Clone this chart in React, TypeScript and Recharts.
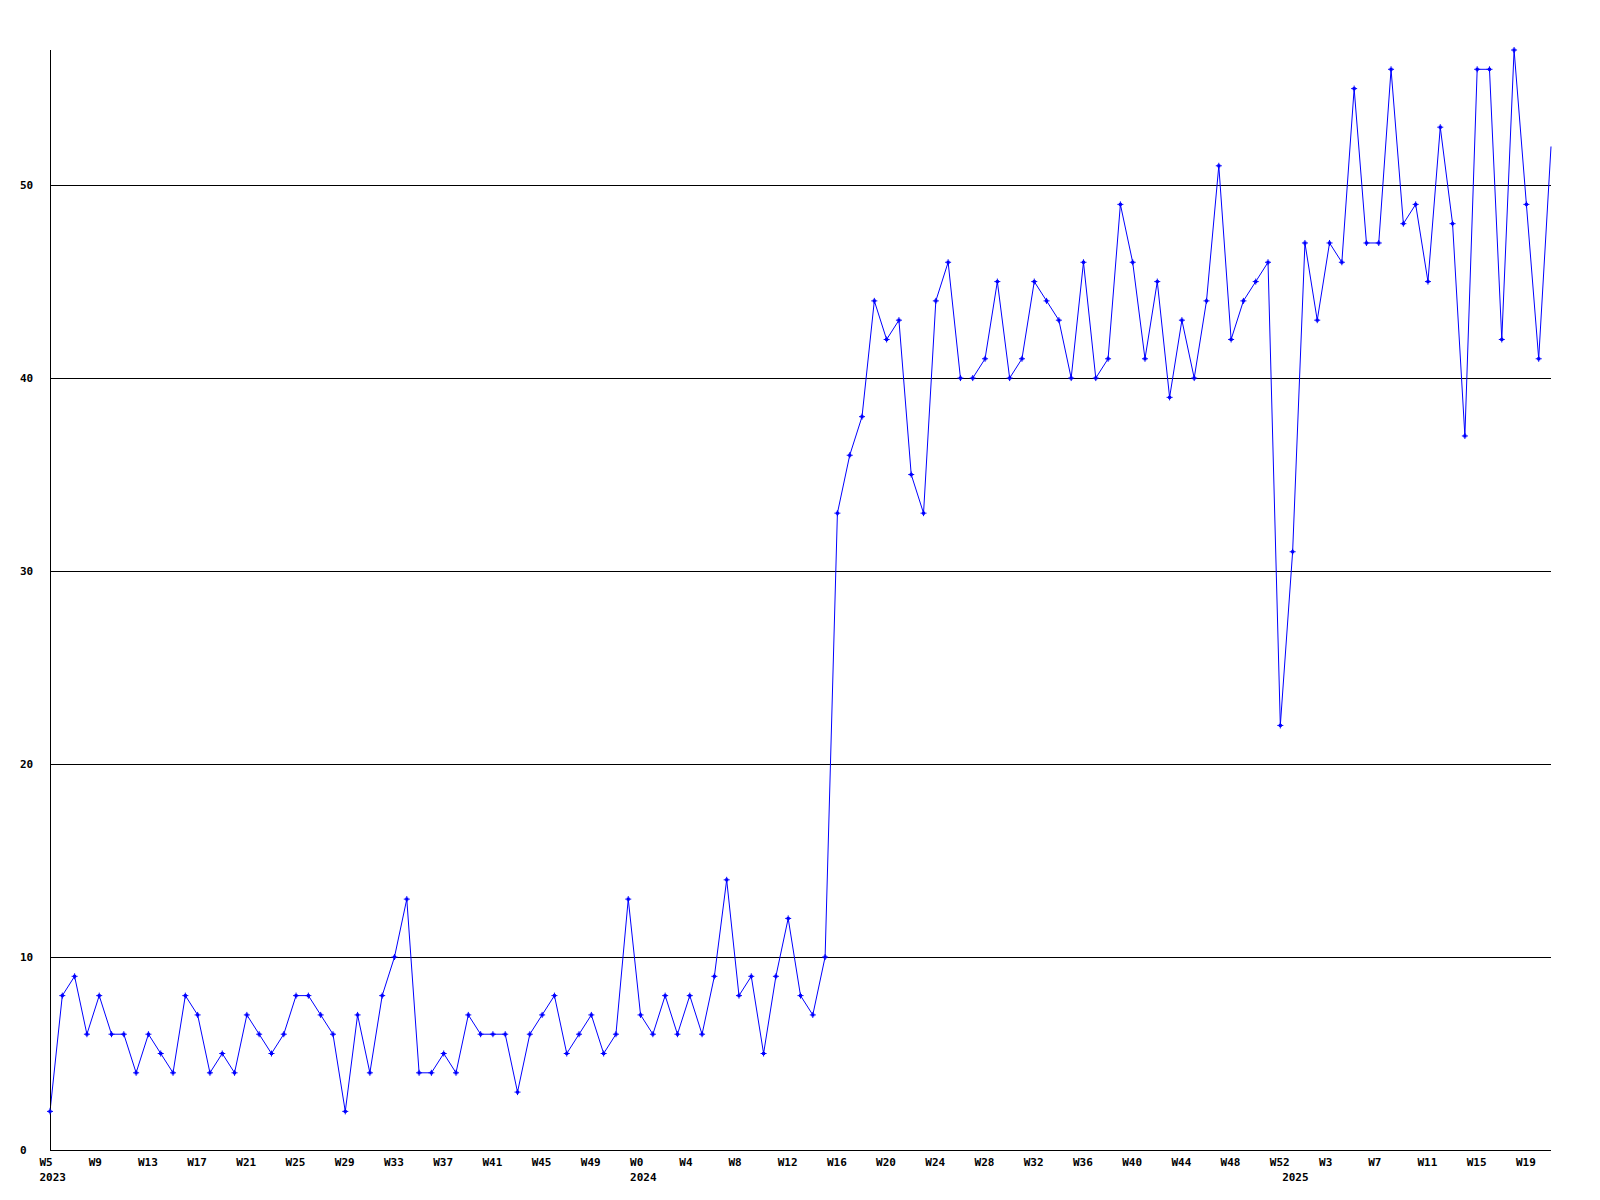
import React from 'react';
import { LineChart, Line, XAxis, YAxis, ReferenceLine } from 'recharts';

// weekly counts, W5 2023 .. W20 2025 (one value per week)
const weeklyCounts = [
  2, 8, 9, 6, 8, 6, 6, 4, 6, 5,
  4, 8, 7, 4, 5, 4, 7, 6, 5, 6,
  8, 8, 7, 6, 2, 7, 4, 8, 10, 13,
  4, 4, 5, 4, 7, 6, 6, 6, 3, 6,
  7, 8, 5, 6, 7, 5, 6, 13, 7, 6,
  8, 6, 8, 6, 9, 14, 8, 9, 5, 9,
  12, 8, 7, 10, 33, 36, 38, 44, 42, 43,
  35, 33, 44, 46, 40, 40, 41, 45, 40, 41,
  45, 44, 43, 40, 46, 40, 41, 49, 46, 41,
  45, 39, 43, 40, 44, 51, 42, 44, 45, 46,
  22, 31, 47, 43, 47, 46, 55, 47, 47, 56,
  48, 49, 45, 53, 48, 37, 56, 56, 42, 57,
  49, 41, 52,
];

// the line is broken between these two weeks (W26 / W27 2024)
const gapAfterIndex = 74;

// a week label every 4th point
const weekTickStep = 4;
const weekTickLabels = [
  'W5', 'W9', 'W13', 'W17', 'W21', 'W25', 'W29', 'W33', 'W37', 'W41', 'W45', 'W49',
  'W0', 'W4', 'W8', 'W12', 'W16', 'W20', 'W24', 'W28', 'W32', 'W36', 'W40', 'W44', 'W48', 'W52',
  'W3', 'W7', 'W11', 'W15', 'W19',
];

const yearLabels = ['2023', '2024', '2025'];
const yearStarts = [0, 48, 101];

const yTicks = [0, 10, 20, 30, 40, 50];
const yMax = 57;

const W = 1600;
const H = 1200;
const PLOT_BOTTOM = 1150;
const FONT = '"DejaVu Sans Mono", monospace';

const data = weeklyCounts.map((v, i) => ({
  idx: i,
  before: i <= gapAfterIndex ? v : null,
  after: i > gapAfterIndex ? v : null,
}));

const xTicks = Array.from(
  new Set([...weekTickLabels.map((_, k) => k * weekTickStep), ...yearStarts])
).sort((a, b) => a - b);

const XTick = (props: any) => {
  const { x, payload } = props;
  const i = payload.value;
  const wk = i % weekTickStep === 0 ? weekTickLabels[i / weekTickStep] : null;
  const yi = yearStarts.indexOf(i);
  return (
    <g>
      {wk && (
        <text x={x - 10.5} y={PLOT_BOTTOM + 16} fontFamily={FONT} fontSize={11} fontWeight="bold" fill="#000">
          {wk}
        </text>
      )}
      {yi >= 0 && (
        <text x={x - 10.5} y={PLOT_BOTTOM + 31} fontFamily={FONT} fontSize={11} fontWeight="bold" fill="#000">
          {yearLabels[yi]}
        </text>
      )}
    </g>
  );
};

const YTick = (props: any) => {
  const { y, payload } = props;
  return (
    <text x={20} y={y + 4} fontFamily={FONT} fontSize={11} fontWeight="bold" fill="#000">
      {payload.value}
    </text>
  );
};

const PlusDot = (p: any) => {
  const { cx, cy, index, value } = p;
  if (cx == null || cy == null || value == null || index === weeklyCounts.length - 1) {
    return <g key={`d${index}`} />;
  }
  return (
    <g key={`d${index}`}>
      <rect x={cx - 1.5} y={cy - 1.5} width={3} height={3} fill="#0000ff" />
      <path d={`M${cx - 3},${cy}H${cx + 3}M${cx},${cy - 3}V${cy + 3}`} stroke="#0000ff" strokeWidth={1} />
    </g>
  );
};

export default function App() {
  return (
    <div style={{ position: 'absolute', left: 0, top: 0, width: W, height: H, background: '#fff' }}>
      <LineChart width={W} height={H} data={data} margin={{ top: 50, right: 49, bottom: 0, left: 0 }}>
        {yTicks.slice(1).map((t) => (
          <ReferenceLine key={t} y={t} stroke="#000" strokeWidth={1} shapeRendering="crispEdges" />
        ))}
        <XAxis
          dataKey="idx"
          type="number"
          domain={[0, weeklyCounts.length - 1]}
          ticks={xTicks}
          interval={0}
          height={50}
          tick={<XTick />}
          tickLine={false}
          axisLine={{ stroke: '#000', strokeWidth: 1, shapeRendering: 'crispEdges' }}
        />
        <YAxis
          type="number"
          domain={[0, yMax]}
          ticks={yTicks}
          interval={0}
          width={50}
          tick={<YTick />}
          tickLine={false}
          axisLine={{ stroke: '#000', strokeWidth: 1, shapeRendering: 'crispEdges' }}
        />
        <Line
          type="linear"
          dataKey="before"
          stroke="#0000ff"
          strokeWidth={1}
          dot={PlusDot}
          activeDot={false}
          connectNulls={false}
          isAnimationActive={false}
        />
        <Line
          type="linear"
          dataKey="after"
          stroke="#0000ff"
          strokeWidth={1}
          dot={PlusDot}
          activeDot={false}
          connectNulls={false}
          isAnimationActive={false}
        />
      </LineChart>
    </div>
  );
}
